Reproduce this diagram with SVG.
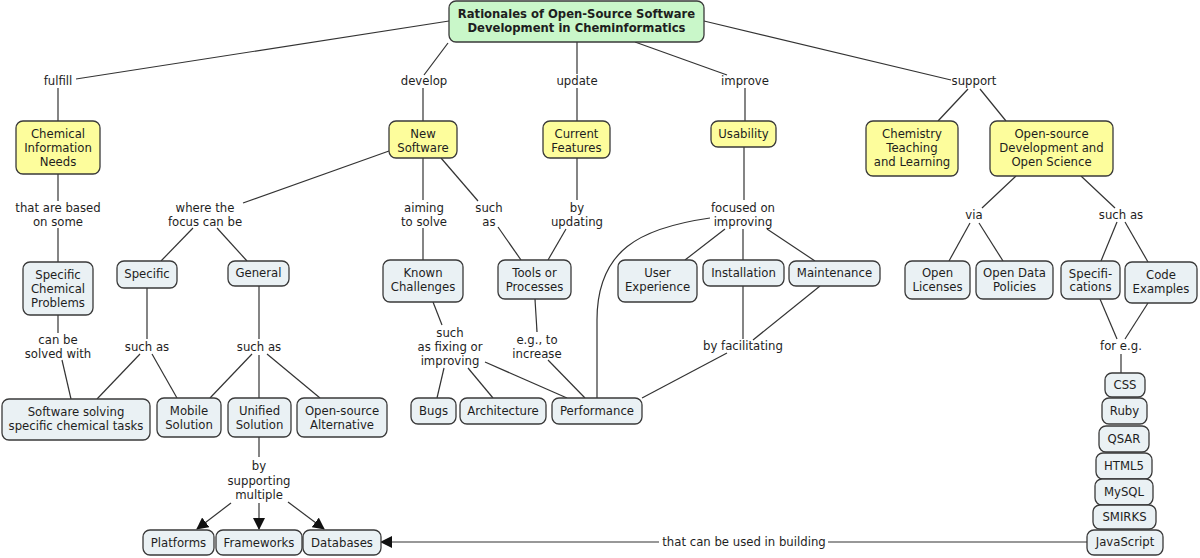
<svg xmlns="http://www.w3.org/2000/svg" width="1200" height="558" viewBox="0 0 1200 558">
<defs>
<style>
.n rect{stroke:#3a3a3a;stroke-width:1.3}
.y rect{fill:#fdfd9c}
.l rect{fill:#eaf1f4}
.r rect{fill:#c9f7c9}
text{font-family:"DejaVu Sans","Verdana",sans-serif;font-size:11.7px;fill:#1e1e1e;text-anchor:middle}
.r text{font-weight:bold;font-size:11.6px}
#conn path{fill:none;stroke:#333;stroke-width:1.2}
</style>
<marker id="ah" markerUnits="userSpaceOnUse" markerWidth="12" markerHeight="12" viewBox="0 0 12 12" refX="11" refY="6" orient="auto"><path d="M0,0 L12,6 L0,12 Z" fill="#111"/></marker>
</defs>
<rect width="1200" height="558" fill="#fff"/>
<g id="conn">
<path d="M449,21 L76,79"/>
<path d="M58,88 L58,121"/>
<path d="M448,43 L424,75"/>
<path d="M423,88 L423,121"/>
<path d="M577,42 L577,74"/>
<path d="M577,88 L577,121"/>
<path d="M635,42 L727,75"/>
<path d="M745,88 L745,121"/>
<path d="M704,21 L951,80"/>
<path d="M968,89 L938,121"/>
<path d="M980,89 L1006,121"/>
<path d="M58,174 L58,201"/>
<path d="M58,228 L58,262"/>
<path d="M58,315 L58,333"/>
<path d="M62,360 L71,399"/>
<path d="M389,151 L243,203"/>
<path d="M193,228 L161,261"/>
<path d="M217,228 L247,261"/>
<path d="M147,288 L147,339"/>
<path d="M140,354 L97,399"/>
<path d="M152,354 L177,398"/>
<path d="M259,286 L259,339"/>
<path d="M252,354 L210,398"/>
<path d="M259,355 L259,398"/>
<path d="M267,354 L320,398"/>
<path d="M259,437 L259,457"/>
<path d="M231,503 L197,529" marker-end="url(#ah)"/>
<path d="M259,503 L259,529" marker-end="url(#ah)"/>
<path d="M288,502 L324,529" marker-end="url(#ah)"/>
<path d="M423,158 L423,200"/>
<path d="M423,228 L423,260"/>
<path d="M441,158 L478,201"/>
<path d="M498,227 L521,260"/>
<path d="M577,158 L577,200"/>
<path d="M566,229 L548,260"/>
<path d="M433,302 L442,325"/>
<path d="M444,368 L437,398"/>
<path d="M468,368 L493,398"/>
<path d="M485,362 L567,398"/>
<path d="M535,299 L537,332"/>
<path d="M548,360 L585,398"/>
<path d="M744,147 L744,200"/>
<path d="M710,218 C640,228 597,250 597,320 L597,398"/>
<path d="M725,229 L685,260"/>
<path d="M743,229 L743,260"/>
<path d="M767,229 L815,261"/>
<path d="M743,286 L743,339"/>
<path d="M820,286 L753,340"/>
<path d="M727,353 L642,398"/>
<path d="M1016,176 L982,208"/>
<path d="M970,223 L949,261"/>
<path d="M979,223 L1003,261"/>
<path d="M1081,176 L1115,208"/>
<path d="M1117,222 L1101,261"/>
<path d="M1125,222 L1148,262"/>
<path d="M1100,299 L1117,339"/>
<path d="M1148,303 L1125,339"/>
<path d="M1121,354 L1121,373"/>
<path d="M1087,542 L828,542"/>
<path d="M659,542 L381,542" marker-end="url(#ah)"/>
</g>
<g id="labels">
<text x="58" y="85">fulfill</text>
<text x="424" y="85">develop</text>
<text x="577" y="85">update</text>
<text x="745" y="85">improve</text>
<text x="974" y="85">support</text>
<text x="58" y="212">that are based<tspan x="58" y="226">on some</tspan></text>
<text x="205" y="212">where the<tspan x="205" y="226">focus can be</tspan></text>
<text x="424" y="212">aiming<tspan x="424" y="226">to solve</tspan></text>
<text x="489" y="212">such<tspan x="489" y="226">as</tspan></text>
<text x="577" y="212">by<tspan x="577" y="226">updating</tspan></text>
<text x="743" y="212">focused on<tspan x="743" y="226">improving</tspan></text>
<text x="974" y="219">via</text>
<text x="1121" y="219">such as</text>
<text x="58" y="344">can be<tspan x="58" y="358">solved with</tspan></text>
<text x="147" y="351">such as</text>
<text x="259" y="351">such as</text>
<text x="450" y="337">such<tspan x="450" y="351">as fixing or</tspan><tspan x="450" y="365">improving</tspan></text>
<text x="537" y="344">e.g., to<tspan x="537" y="358">increase</tspan></text>
<text x="743" y="350">by facilitating</text>
<text x="1121" y="350">for e.g.</text>
<text x="259" y="470">by<tspan x="259" y="485">supporting</tspan><tspan x="259" y="499">multiple</tspan></text>
<text x="744" y="546">that can be used in building</text>
</g>
<g id="root" class="n r"><rect x="449" y="1" width="255" height="41" rx="7"/><text x="576.5" y="18">Rationales of Open-Source Software<tspan x="576.5" y="32">Development in Cheminformatics</tspan></text></g>
<g id="cin" class="n y"><rect x="16" y="121" width="84" height="53" rx="7"/><text x="58" y="138">Chemical<tspan x="58" y="152">Information</tspan><tspan x="58" y="166">Needs</tspan></text></g>
<g id="newsw" class="n y"><rect x="389" y="121" width="68" height="37" rx="7"/><text x="423" y="138">New<tspan x="423" y="152">Software</tspan></text></g>
<g id="curfeat" class="n y"><rect x="543" y="121" width="67" height="37" rx="7"/><text x="576.5" y="138">Current<tspan x="576.5" y="152">Features</tspan></text></g>
<g id="usab" class="n y"><rect x="711" y="121" width="65" height="26" rx="7"/><text x="743.5" y="138">Usability</text></g>
<g id="chemteach" class="n y"><rect x="866" y="121" width="92" height="55" rx="7"/><text x="912" y="138">Chemistry<tspan x="912" y="152">Teaching</tspan><tspan x="912" y="166">and Learning</tspan></text></g>
<g id="osdos" class="n y"><rect x="990" y="121" width="123" height="55" rx="7"/><text x="1051.5" y="138">Open-source<tspan x="1051.5" y="152">Development and</tspan><tspan x="1051.5" y="166">Open Science</tspan></text></g>
<g id="scp" class="n l"><rect x="23" y="262" width="70" height="53" rx="7"/><text x="58" y="279">Specific<tspan x="58" y="293">Chemical</tspan><tspan x="58" y="307">Problems</tspan></text></g>
<g id="specific" class="n l"><rect x="117" y="261" width="60" height="27" rx="7"/><text x="147" y="278">Specific</text></g>
<g id="general" class="n l"><rect x="228" y="261" width="61" height="25" rx="7"/><text x="258.5" y="277">General</text></g>
<g id="sssct" class="n l"><rect x="2" y="399" width="148" height="41" rx="7"/><text x="76" y="416">Software solving<tspan x="76" y="430">specific chemical tasks</tspan></text></g>
<g id="mobile" class="n l"><rect x="157" y="398" width="64" height="39" rx="7"/><text x="189" y="415">Mobile<tspan x="189" y="429">Solution</tspan></text></g>
<g id="unified" class="n l"><rect x="228" y="398" width="63" height="39" rx="7"/><text x="259.5" y="415">Unified<tspan x="259.5" y="429">Solution</tspan></text></g>
<g id="osalt" class="n l"><rect x="297" y="398" width="90" height="39" rx="7"/><text x="342" y="415">Open-source<tspan x="342" y="429">Alternative</tspan></text></g>
<g id="platforms" class="n l"><rect x="143" y="530" width="71" height="25" rx="7"/><text x="178.5" y="547">Platforms</text></g>
<g id="frameworks" class="n l"><rect x="216" y="530" width="86" height="25" rx="7"/><text x="259" y="547">Frameworks</text></g>
<g id="databases" class="n l"><rect x="303" y="530" width="78" height="25" rx="7"/><text x="342" y="547">Databases</text></g>
<g id="known" class="n l"><rect x="383" y="260" width="80" height="42" rx="7"/><text x="423" y="277">Known<tspan x="423" y="291">Challenges</tspan></text></g>
<g id="tools" class="n l"><rect x="498" y="260" width="73" height="39" rx="7"/><text x="534.5" y="277">Tools or<tspan x="534.5" y="291">Processes</tspan></text></g>
<g id="bugs" class="n l"><rect x="411" y="398" width="45" height="26" rx="7"/><text x="433.5" y="415">Bugs</text></g>
<g id="arch" class="n l"><rect x="460" y="398" width="86" height="26" rx="7"/><text x="503" y="415">Architecture</text></g>
<g id="perf" class="n l"><rect x="552" y="398" width="90" height="26" rx="7"/><text x="597" y="415">Performance</text></g>
<g id="ux" class="n l"><rect x="618" y="260" width="79" height="42" rx="7"/><text x="657.5" y="277">User<tspan x="657.5" y="291">Experience</tspan></text></g>
<g id="install" class="n l"><rect x="703" y="260" width="81" height="26" rx="7"/><text x="743.5" y="277">Installation</text></g>
<g id="maint" class="n l"><rect x="789" y="261" width="91" height="25" rx="7"/><text x="834.5" y="277">Maintenance</text></g>
<g id="openlic" class="n l"><rect x="905" y="261" width="65" height="38" rx="7"/><text x="937.5" y="277">Open<tspan x="937.5" y="291">Licenses</tspan></text></g>
<g id="opendata" class="n l"><rect x="976" y="261" width="77" height="38" rx="7"/><text x="1014.5" y="277">Open Data<tspan x="1014.5" y="291">Policies</tspan></text></g>
<g id="spec" class="n l"><rect x="1061" y="261" width="59" height="38" rx="7"/><text x="1090.5" y="278">Specifi-<tspan x="1090.5" y="291">cations</tspan></text></g>
<g id="code" class="n l"><rect x="1125" y="262" width="72" height="41" rx="7"/><text x="1161" y="279">Code<tspan x="1161" y="293">Examples</tspan></text></g>
<g id="css" class="n l"><rect x="1105" y="373" width="40" height="24" rx="7"/><text x="1125" y="389">CSS</text></g>
<g id="ruby" class="n l"><rect x="1102" y="398" width="45" height="26" rx="7"/><text x="1124.5" y="415">Ruby</text></g>
<g id="qsar" class="n l"><rect x="1099" y="426" width="50" height="26" rx="7"/><text x="1124" y="443">QSAR</text></g>
<g id="html5" class="n l"><rect x="1096" y="453" width="56" height="26" rx="7"/><text x="1124" y="470">HTML5</text></g>
<g id="mysql" class="n l"><rect x="1095" y="479" width="58" height="26" rx="7"/><text x="1124" y="496">MySQL</text></g>
<g id="smirks" class="n l"><rect x="1093" y="505" width="63" height="24" rx="7"/><text x="1124.5" y="521">SMIRKS</text></g>
<g id="javascript" class="n l"><rect x="1087" y="530" width="76" height="25" rx="7"/><text x="1125" y="546">JavaScript</text></g>
</svg>
